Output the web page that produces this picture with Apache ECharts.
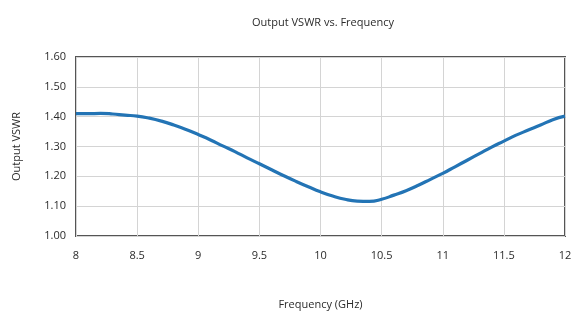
<!DOCTYPE html>
<html>
<head>
<meta charset="utf-8">
<script src="https://cdn.jsdelivr.net/npm/echarts@6/dist/echarts.min.js"></script>
<style>
  html, body { margin: 0; padding: 0; background: #fff; }
  #chart { width: 577px; height: 315px; }
</style>
</head>
<body>
<div id="chart"></div>
<script>
// frequency in GHz, output VSWR
const freq = [8.0, 8.1, 8.2, 8.3, 8.4, 8.5, 8.6, 8.7, 8.8, 8.9,
  9.0, 9.1, 9.2, 9.3, 9.4, 9.5, 9.6, 9.7, 9.8, 9.9,
  10.0, 10.1, 10.2, 10.3, 10.4, 10.5, 10.6, 10.7, 10.8, 10.9,
  11.0, 11.1, 11.2, 11.3, 11.4, 11.5, 11.6, 11.7, 11.8, 11.9, 12.0]
const vswr = [1.410, 1.410, 1.411, 1.409, 1.405, 1.402, 1.395, 1.385, 1.372, 1.357,
  1.340, 1.322, 1.302, 1.283, 1.262, 1.242, 1.222, 1.202, 1.183, 1.165,
  1.148, 1.134, 1.123, 1.117, 1.116, 1.123, 1.137, 1.152, 1.170, 1.190,
  1.210, 1.232, 1.254, 1.276, 1.298, 1.318, 1.338, 1.355, 1.372, 1.390, 1.402]

const font = '"Open Sans", sans-serif'
const textColor = '#2b2b2b'

const chart = echarts.init(document.getElementById('chart'))

const option = {
  animation: false,
  title: {
    text: 'Output VSWR vs. Frequency',
    left: 318,
    textAlign: 'center',
    top: 12,
    textStyle: { fontFamily: font, fontSize: 11, fontWeight: 'normal', color: textColor }
  },
  grid: {
    left: 76,
    right: 12,
    top: 57,
    bottom: 78,
    show: true,
    borderColor: '#555',
    borderWidth: 2
  },
  xAxis: {
    type: 'value',
    min: 8,
    max: 12,
    interval: 0.5,
    name: 'Frequency (GHz)',
    nameLocation: 'middle',
    nameGap: 63,
    nameTextStyle: { fontFamily: font, fontSize: 11, color: textColor },
    axisLine: { show: false },
    axisTick: { show: false },
    axisLabel: { fontFamily: font, fontSize: 11, color: textColor, margin: 14 },
    splitLine: { lineStyle: { color: '#d4d4d4', width: 1 } }
  },
  yAxis: {
    type: 'value',
    min: 1,
    max: 1.6,
    interval: 0.1,
    name: 'Output VSWR',
    nameLocation: 'middle',
    nameGap: 54,
    nameTextStyle: { fontFamily: font, fontSize: 11, color: textColor },
    axisLine: { show: false },
    axisTick: { show: false },
    axisLabel: {
      fontFamily: font, fontSize: 11, color: textColor, margin: 10,
      formatter: v => v.toFixed(2)
    },
    splitLine: { lineStyle: { color: '#d4d4d4', width: 1 } }
  },
  series: [
    {
      type: 'line',
      data: freq.map((f, i) => [f, vswr[i]]),
      smooth: true,
      showSymbol: false,
      lineStyle: { color: '#2374b5', width: 3.2 }
    }
  ]
}

chart.setOption(option)
</script>
</body>
</html>
